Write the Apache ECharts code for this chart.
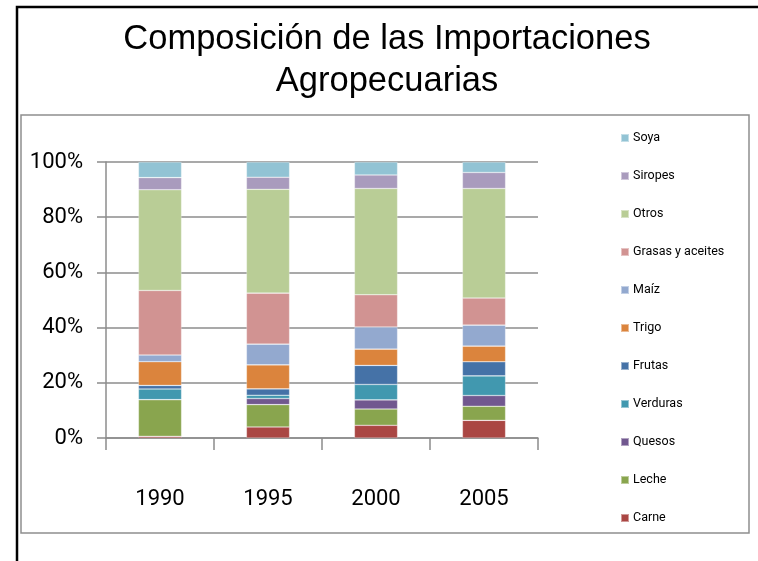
<!DOCTYPE html>
<html>
<head>
<meta charset="utf-8">
<script src="https://cdn.jsdelivr.net/npm/echarts@6/dist/echarts.min.js"></script>
<style>
    html, body { margin: 0; padding: 0; background: #fff; }
</style>
</head>
<body>
<div id="chart" style="width: 758px; height: 561px"></div>
<script>
// years on the x axis
const years = ["1990", "1995", "2000", "2005"];
// series, bottom of the stack first (percent of total)
const carne = [0.6, 4.0, 4.6, 6.4];
const leche = [13.3, 8.1, 5.9, 5.1];
const quesos = [0, 2.2, 3.3, 3.9];
const verduras = [3.85, 1.2, 5.6, 7.1];
const frutas = [1.3, 2.3, 6.9, 5.1];
const trigo = [8.6, 8.7, 5.9, 5.7];
const maiz = [2.4, 7.5, 8.0, 7.6];
const grasas = [23.4, 18.5, 11.7, 9.8];
const otros = [36.5, 37.6, 38.5, 39.7];
const siropes = [4.4, 4.4, 4.9, 5.8];
const soya = [5.65, 5.5, 4.7, 3.8];
const yTicks = [0, 20, 40, 60, 80, 100];

// no narrow font installed, Roboto is the slimmest of what we have
const narrow = "Roboto, 'DejaVu Sans Condensed', sans-serif";

const seriesList = [
    { name: "Carne", data: carne, color: "#AA4643" },
    { name: "Leche", data: leche, color: "#89A54E" },
    { name: "Quesos", data: quesos, color: "#71588F" },
    { name: "Verduras", data: verduras, color: "#4198AF" },
    { name: "Frutas", data: frutas, color: "#4572A7" },
    { name: "Trigo", data: trigo, color: "#DB843D" },
    { name: "Maíz", data: maiz, color: "#93A9CF" },
    { name: "Grasas y aceites", data: grasas, color: "#D19392" },
    { name: "Otros", data: otros, color: "#B9CD96" },
    { name: "Siropes", data: siropes, color: "#A99BBD" },
    { name: "Soya", data: soya, color: "#92C3D4" }
];

let chartDom = document.getElementById("chart");
let myChart = echarts.init(chartDom, null, { renderer: "canvas" });

let option = {
    animation: false,
    backgroundColor: "#fff",
    title: {
        text: "Composición de las Importaciones\nAgropecuarias",
        left: 387,
        top: 18,
        padding: 0,
        textAlign: "center",
        textStyle: {
            fontFamily: "'Liberation Sans', Arial, sans-serif",
            fontSize: 34.5,
            fontWeight: "normal",
            color: "#000",
            lineHeight: 42
        }
    },
    graphic: [
        {
            type: "polyline",
            silent: true,
            shape: { points: [[17, 561], [17, 7], [758, 7]] },
            style: { stroke: "#000", lineWidth: 2.5, fill: null }
        },
        {
            type: "rect",
            silent: true,
            shape: { x: 21, y: 115, width: 728, height: 418 },
            style: { stroke: "#8e8e8e", lineWidth: 1.5, fill: null }
        }
    ],
    legend: {
        orient: "vertical",
        left: 620,
        top: 131,
        padding: 0,
        itemWidth: 8,
        itemHeight: 8,
        itemGap: 24,
        icon: "rect",
        data: seriesList.map(s => s.name).reverse(),
        textStyle: {
            fontFamily: narrow,
            fontSize: 12.5,
            lineHeight: 14,
            color: "#000",
            padding: [0, 0, 0, -1]
        }
    },
    grid: {
        left: 106,
        right: 220,
        top: 162,
        bottom: 123
    },
    xAxis: {
        type: "category",
        data: years,
        axisLine: { lineStyle: { color: "#8c8c8c", width: 1.5 } },
        axisTick: { show: true, length: 12, lineStyle: { color: "#8c8c8c", width: 1.5 } },
        axisLabel: {
            margin: 50,
            fontFamily: narrow,
            fontSize: 22,
            color: "#000"
        }
    },
    yAxis: {
        type: "value",
        min: yTicks[0],
        max: yTicks[yTicks.length - 1],
        interval: 20,
        axisLine: { show: true, lineStyle: { color: "#8c8c8c", width: 1.5 } },
        axisTick: { show: true, length: 9, lineStyle: { color: "#8c8c8c", width: 1.5 } },
        splitLine: { lineStyle: { color: "#8c8c8c", width: 1.5 } },
        axisLabel: {
            margin: 23,
            formatter: "{value}%",
            fontFamily: narrow,
            fontSize: 22,
            color: "#000"
        }
    },
    series: seriesList.map(s => ({
        name: s.name,
        type: "bar",
        stack: "total",
        barWidth: "40%",
        data: s.data,
        itemStyle: {
            color: s.color,
            borderColor: "rgba(255,255,255,0.45)",
            borderWidth: 0.6
        }
    }))
};
myChart.setOption(option);
</script>
</body>
</html>
